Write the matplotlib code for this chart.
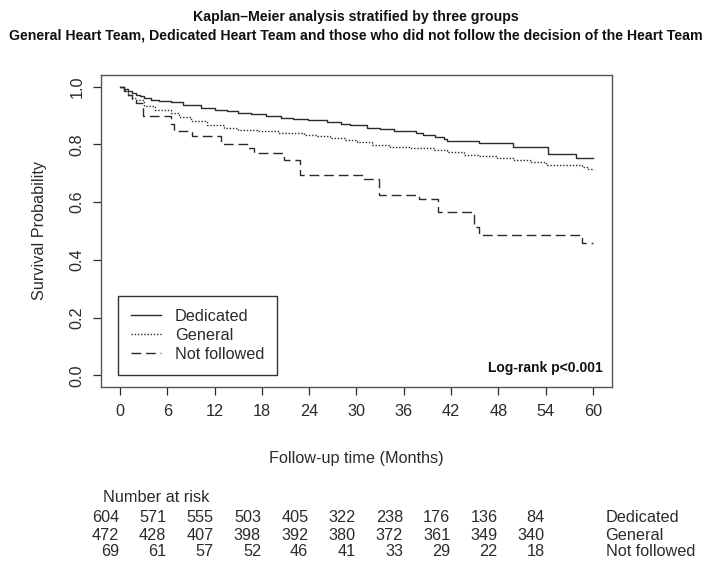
import matplotlib
matplotlib.use("Agg")
import matplotlib.pyplot as plt
import matplotlib.transforms as mtransforms

plt.rcParams["font.family"] = ["Liberation Sans", "DejaVu Sans"]

# Kaplan-Meier step curves (months, survival)
ded_t = [0, 0.5, 1, 1.5, 2, 2.5, 3.1, 4, 5, 6.5, 8, 10.3, 12, 13.6, 15, 16.6, 18.5,
         20.4, 22, 23.8, 26.3, 28, 29.2, 31.4, 33, 34.7, 37.5, 38.5, 40, 41.1, 41.5,
         45.5, 49.9, 54.3, 57.9, 60]
ded_s = [1.0, 0.992, 0.985, 0.978, 0.972, 0.967, 0.961, 0.955, 0.950, 0.946, 0.937,
         0.926, 0.920, 0.914, 0.910, 0.906, 0.898, 0.891, 0.887, 0.883, 0.876, 0.871,
         0.866, 0.856, 0.852, 0.847, 0.840, 0.833, 0.826, 0.819, 0.810, 0.804, 0.790,
         0.767, 0.751, 0.751]

gen_t = [0, 0.5, 1, 1.5, 2, 3.1, 4.5, 6.5, 7.5, 9.0, 11, 13.2, 15, 17.4, 20, 23.3, 25,
         26.7, 28.5, 30.1, 32, 34.3, 36.8, 39.8, 41.5, 43.6, 45.5, 47.8, 50, 52.0, 54.1,
         58.6, 59.3, 60]
gen_s = [1.0, 0.985, 0.972, 0.962, 0.952, 0.932, 0.920, 0.909, 0.895, 0.880, 0.868,
         0.856, 0.851, 0.847, 0.840, 0.833, 0.828, 0.822, 0.815, 0.807, 0.798, 0.792,
         0.786, 0.779, 0.772, 0.764, 0.758, 0.752, 0.745, 0.739, 0.729, 0.722, 0.716,
         0.712]

nf_t = [0, 0.5, 1.0, 1.5, 2.0, 2.9, 6.5, 6.9, 9.2, 12.8, 16.3, 17.0, 20.8, 22.9, 30.8,
        32.8, 37.9, 40.4, 44.9, 45.5, 58.6, 60]
nf_s = [1.0, 0.986, 0.971, 0.957, 0.942, 0.899, 0.870, 0.845, 0.830, 0.801, 0.786,
        0.770, 0.747, 0.694, 0.680, 0.625, 0.610, 0.564, 0.515, 0.486, 0.457, 0.457]

risk_times = [0, 6, 12, 18, 24, 30, 36, 42, 48, 54]
risk_ded = [604, 571, 555, 503, 405, 322, 238, 176, 136, 84]
risk_gen = [472, 428, 407, 398, 392, 380, 372, 361, 349, 340]
risk_nf = [69, 61, 57, 52, 46, 41, 33, 29, 22, 18]
groups = ["Dedicated", "General", "Not followed"]

ink = "#2b2b2b"
fs = 11.7

fig = plt.figure(figsize=(7.09, 5.64), dpi=100)
ax = fig.add_axes([0.1425, 0.314, 0.7205, 0.553])

ax.step(ded_t, ded_s, where="post", color=ink, lw=1.0, label=groups[0])
ax.step(gen_t, gen_s, where="post", color=ink, lw=1.0, linestyle=(0, (1, 1.3)), label=groups[1])
ax.step(nf_t, nf_s, where="post", color=ink, lw=1.0, linestyle=(0, (7, 3.5)), label=groups[2])

ax.set_xlim(-2.4, 62.4)
ax.set_ylim(-0.04, 1.04)
ax.set_xticks(range(0, 61, 6))
ax.set_yticks([0, 0.2, 0.4, 0.6, 0.8, 1.0])
ax.set_yticklabels(["0.0", "0.2", "0.4", "0.6", "0.8", "1.0"], rotation=90, va="center")
ax.tick_params(colors=ink, labelsize=fs, length=6, width=0.9, pad=6)
for s in ax.spines.values():
    s.set_color("#555555")
    s.set_linewidth(1.0)

ax.set_ylabel("Survival Probability", fontsize=fs, color=ink, labelpad=16)
fig.text(0.5025, 1 - 459 / 564, "Follow-up time (Months)", ha="center", va="center",
         fontsize=fs, color=ink)

leg = ax.legend(loc="lower left", bbox_to_anchor=(0.033, 0.038), borderaxespad=0,
                fancybox=False, edgecolor="#333333", fontsize=fs, handlelength=1.85,
                handletextpad=0.86, labelspacing=0.25, borderpad=0.8, framealpha=1)
leg.get_frame().set_linewidth(1.0)
for t in leg.get_texts():
    t.set_color(ink)

ax.text(0.982, 0.062, "Log-rank p<0.001", transform=ax.transAxes, ha="right",
        va="center", fontsize=10, fontweight="bold", color="#111111")

fig.text(0.5025, 1 - 17 / 564, "Kaplan\u2013Meier analysis stratified by three groups",
         ha="center", va="center", fontsize=10.2, fontweight="bold", color="#111111")
fig.text(0.5025, 1 - 36 / 564,
         "General Heart Team, Dedicated Heart Team and those who did not follow the decision of the Heart Team",
         ha="center", va="center", fontsize=10.2, fontweight="bold", color="#111111")

# number at risk table
trans = mtransforms.blended_transform_factory(ax.transData, fig.transFigure)
fig.text(-2.15, 1 - 497 / 564, "Number at risk", transform=trans, ha="left",
         va="center", fontsize=fs, color=ink)
rows_y = [517, 535, 552]
for row, yy, name in zip([risk_ded, risk_gen, risk_nf], rows_y, groups):
    for tm, n in zip(risk_times, row):
        fig.text(tm - 0.1, 1 - yy / 564, str(n), transform=trans, ha="right",
                 va="center", fontsize=fs, color=ink)
    fig.text(61.6, 1 - yy / 564, name, transform=trans, ha="left", va="center",
             fontsize=fs, color=ink)

fig.savefig("out.png", dpi=100)
